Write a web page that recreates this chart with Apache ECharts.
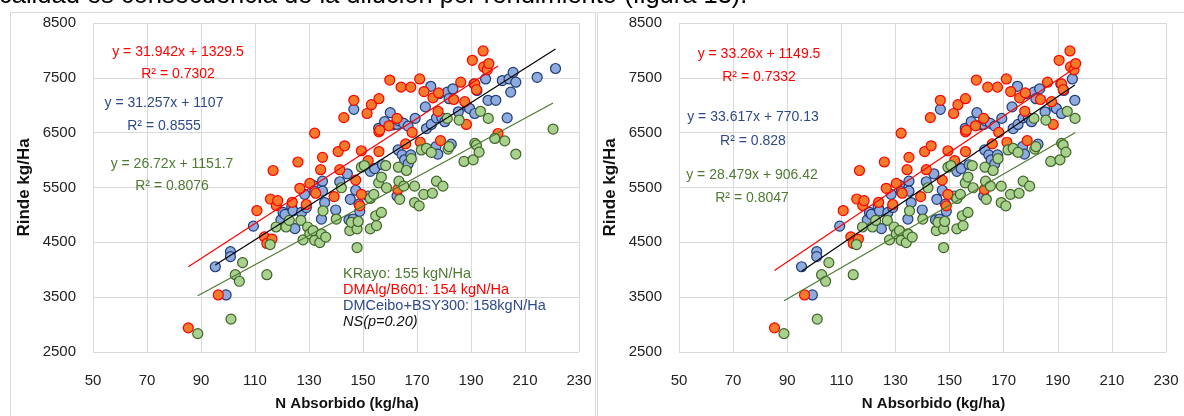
<!DOCTYPE html>
<html>
<head>
<meta charset="utf-8">
<script src="https://cdn.jsdelivr.net/npm/echarts@6/dist/echarts.min.js"></script>
<style>
html,body{margin:0;padding:0;background:#fff;}
#main{width:1184px;height:416px;}
</style>
</head>
<body>
<div id="main"></div>
<script>
// N absorbido (kg/ha) vs rinde (kg/ha), one pair of arrays per cultivar
var kRayoN = [88.8,101.1,102.7,104.2,105.4,114.4,115.6,117.8,121.5,122.7,127.0,127.8,129.5,130.3,131.5,132.1,134.0,134.6,135.2,136.2,
  140.1,142.0,145.1,145.7,147.8,147.8,148.2,149.4,150.5,152.7,152.7,154.0,154.7,155.0,155.8,156.8,156.8,158.4,158.7,163.1,
  163.3,163.6,165.1,166.1,167.9,169.1,169.1,170.8,171.6,172.5,173.5,175.3,175.7,177.2,179.6,181.2,181.5,181.9,185.6,187.4,
  190.8,191.4,192.0,193.0,193.5,196.4,198.8,202.5,206.6,220.4];
var kRayoRinde = [2835,3100,3910,3790,4130,3910,4460,4780,4780,4900,4900,4545,4780,4655,4715,4535,4495,4655,5075,4595,
  4925,5495,4715,4865,4745,4405,4880,5870,5900,5300,4745,5375,4985,4805,5585,5045,5690,5900,5495,5870,
  5615,5285,5525,5810,6025,5525,5225,5165,6185,5375,6215,6140,5395,5615,5525,6760,6200,6245,6730,5975,
  6005,6305,6275,6145,6890,6760,6395,6350,6110,6565];

var dmAlgN = [85.3,96.4,110.7,113.5,114.4,116.3,115.7,116.7,117.9,118.4,123.8,125.9,126.6,129.0,130.3,132.1,132.5,134.3,135.0,139.3,
  140.8,141.4,142.9,143.2,146.6,147.3,148.8,149.4,149.4,151.5,151.9,153.1,155.9,155.9,156.2,155.9,159.6,159.9,162.6,162.9,
  164.1,165.8,167.7,168.2,171.0,171.2,172.6,175.9,177.8,178.0,178.7,183.6,186.2,187.7,188.3,190.5,191.4,192.0,194.5,194.7,
  196.0,196.6,200.0];
var dmAlgRinde = [2940,3540,5080,4600,4480,4560,5290,5810,5170,5260,5230,5965,5485,5190,5575,6490,5395,5825,6050,5335,
  6155,5825,6775,6260,7090,5635,5165,5375,6170,6850,5990,7010,7120,6515,6545,6155,6625,7460,6760,5465,
  7330,6295,7330,6505,7480,6325,7250,7135,6890,7225,6355,7105,7420,7065,6650,7820,7390,7285,7990,7700,
  7645,7760,6485];

var dmCeiboN = [95.3,99.3,100.9,100.9,109.4,119.6,120.4,121.1,123.6,124.1,124.8,127.2,128.4,129.0,131.5,132.1,134.6,135.0,135.0,135.8,
  139.9,141.4,144.2,144.8,145.3,146.3,146.6,147.3,148.5,148.8,151.9,152.7,154.3,155.8,157.2,158.0,160.1,160.9,162.6,162.6,
  163.0,163.3,164.5,165.1,165.4,166.7,166.7,167.7,169.3,173.1,173.5,175.1,175.3,177.0,177.2,177.7,178.2,179.2,180.3,181.2,
  181.9,182.7,183.3,185.3,188.7,189.5,191.1,191.4,192.2,195.4,196.3,199.2,201.6,203.4,204.1,204.7,205.6,206.6,214.5,221.3];
var dmCeiboRinde = [4055,3540,4330,4240,4795,4910,5045,5010,5150,5075,4750,5045,5375,5135,5540,5425,4925,5615,5435,5225,
  5090,5605,5750,4910,5285,4925,6925,5450,5195,5065,5345,5795,5845,6580,5915,6700,6865,6640,6650,5345,
  6185,6715,6095,6670,6005,6620,5930,6095,6760,6970,6575,7345,6650,6245,6770,6110,7210,6770,6700,7240,
  7120,6290,7300,6880,6970,6940,7390,6850,7270,7480,7090,7090,7450,6770,7480,7240,7600,7420,7510,7670];

// right panel keeps only the plots with N up to this value
var rightMaxN = 197;

// fitted lines printed on the charts, order: KRayo, DMAlg/B601, DMCeibo+BSY300
var leftSlope = [26.72, 31.942, 31.257];
var leftIntercept = [1151.7, 1329.5, 1107];
var leftR2 = [0.8076, 0.7302, 0.8555];
var rightSlope = [28.479, 33.26, 33.617];
var rightIntercept = [906.42, 1149.5, 770.13];
var rightR2 = [0.8047, 0.7332, 0.828];

var noteLines = ['KRayo: 155 kgN/Ha', 'DMAlg/B601: 154 kgN/Ha', 'DMCeibo+BSY300: 158kgN/Ha', 'NS(p=0.20)'];
var xTicks = {min: 50, max: 230, step: 20};
var yTicks = {min: 2500, max: 8500, step: 1000};

var fillColors = ['#A9D18E', '#F47A2C', '#8FAADC'];
var borderColors = ['#3F6428', '#FF0000', '#1F3C78'];
var trendColors = ['#4E7A32', '#FF0000', '#000000'];
var textColors = ['#4E7A32', '#FF0000', '#2F4A8A'];
var FONT = '"Liberation Sans", Arial, sans-serif';

function pairs(xs, ys, maxN){
  var out = [];
  for(var i=0;i<xs.length;i++){
    if(maxN == null || xs[i] <= maxN) out.push([xs[i], ys[i]]);
  }
  return out;
}

function trendLine(pts, slope, icpt){
  var lo = pts[0][0], hi = pts[0][0];
  for(var i=1;i<pts.length;i++){
    if(pts[i][0] < lo) lo = pts[i][0];
    if(pts[i][0] > hi) hi = pts[i][0];
  }
  return [[lo, slope*lo + icpt], [hi, slope*hi + icpt]];
}

var groups = [[kRayoN, kRayoRinde], [dmAlgN, dmAlgRinde], [dmCeiboN, dmCeiboRinde]];
var drawOrder = [2, 1, 0];

function buildSeries(gi, maxN, slopes, icpts){
  var list = [];
  for(var k=0;k<drawOrder.length;k++){
    var s = drawOrder[k];
    var pts = pairs(groups[s][0], groups[s][1], maxN);
    list.push({
      type: 'scatter',
      xAxisIndex: gi, yAxisIndex: gi,
      data: pts,
      symbolSize: 10,
      z: 2,
      itemStyle: {color: fillColors[s], borderColor: borderColors[s], borderWidth: 1.2, opacity: 1},
      emphasis: {disabled: true}
    });
  }
  for(var k=0;k<drawOrder.length;k++){
    var s = drawOrder[k];
    var pts = pairs(groups[s][0], groups[s][1], maxN);
    list.push({
      type: 'line',
      xAxisIndex: gi, yAxisIndex: gi,
      data: trendLine(pts, slopes[s], icpts[s]),
      symbol: 'none',
      z: 3,
      lineStyle: {color: trendColors[s], width: 1.2},
      emphasis: {disabled: true}
    });
  }
  return list;
}

function plain(v){ return String(v); }

function xAxisFor(gi){
  return {
    type: 'value', gridIndex: gi,
    min: xTicks.min, max: xTicks.max, interval: xTicks.step,
    axisLine: {show: false}, axisTick: {show: false},
    splitLine: {show: true, lineStyle: {color: '#d9d9d9', width: 1}},
    axisLabel: {fontFamily: FONT, fontSize: 15, color: '#222', margin: 21, formatter: plain},
    name: 'N Absorbido (kg/ha)', nameLocation: 'middle', nameGap: 44,
    nameTextStyle: {fontFamily: FONT, fontSize: 15, fontWeight: 'bold', color: '#111', padding: [0, 0, 0, 22]}
  };
}

function yAxisFor(gi){
  return {
    type: 'value', gridIndex: gi,
    min: yTicks.min, max: yTicks.max, interval: yTicks.step,
    axisLine: {show: false}, axisTick: {show: false},
    splitLine: {show: true, lineStyle: {color: '#d9d9d9', width: 1}},
    axisLabel: {fontFamily: FONT, fontSize: 15, color: '#222', margin: 17, formatter: plain},
    name: 'Rinde kg/Ha', nameLocation: 'middle', nameGap: 60, nameRotate: 90,
    nameTextStyle: {fontFamily: FONT, fontSize: 17, fontWeight: 'bold', color: '#111'}
  };
}

function eqText(slope, icpt){
  return 'y = ' + slope + 'x + ' + icpt;
}

// label anchor positions (px) for each equation / R² pair
var leftEqPos = [[172, 164, 186], [178, 52, 74], [164, 103, 126]];
var rightEqPos = [[752, 175, 198], [759, 54, 77], [753, 117, 141]];

var graphics = [];
graphics.push({type: 'rect', shape: {x: 10.5, y: 12.5, width: 585, height: 420}, style: {fill: null, stroke: '#d9d9d9', lineWidth: 1}, silent: true});
graphics.push({type: 'rect', shape: {x: 597.5, y: 12.5, width: 600, height: 420}, style: {fill: null, stroke: '#d9d9d9', lineWidth: 1}, silent: true});
graphics.push({type: 'text', x: -1, y: 9, style: {text: 'calidad es consecuencia de la dilución por rendimiento (figura 13).', font: '25.5px ' + FONT, fill: '#000', textVerticalAlign: 'bottom'}, silent: true});

function addEquations(pos, slopes, icpts, r2s){
  for(var s=0;s<3;s++){
    graphics.push({type: 'text', x: pos[s][0], y: pos[s][1], z: 10,
      style: {text: eqText(slopes[s], icpts[s]), font: '14px ' + FONT, fill: textColors[s], textAlign: 'center', textVerticalAlign: 'middle'}});
    graphics.push({type: 'text', x: pos[s][0], y: pos[s][2], z: 10,
      style: {text: 'R² = ' + r2s[s], font: '14px ' + FONT, fill: textColors[s], textAlign: 'center', textVerticalAlign: 'middle'}});
  }
}
addEquations(leftEqPos, leftSlope, leftIntercept, leftR2);
addEquations(rightEqPos, rightSlope, rightIntercept, rightR2);

var noteY = [274, 290, 306, 322];
var noteColors = [textColors[0], textColors[1], textColors[2], '#111'];
for(var i=0;i<noteLines.length;i++){
  graphics.push({type: 'text', x: 343, y: noteY[i], z: 10,
    style: {text: noteLines[i], font: (i == 3 ? 'italic ' : '') + '14.5px ' + FONT, fill: noteColors[i], textVerticalAlign: 'middle'}});
}

var option = {
  animation: false,
  backgroundColor: '#ffffff',
  grid: [
    {left: 93, top: 23, width: 486, height: 333},
    {left: 679, top: 23, width: 487, height: 333}
  ],
  xAxis: [xAxisFor(0), xAxisFor(1)],
  yAxis: [yAxisFor(0), yAxisFor(1)],
  series: buildSeries(0, null, leftSlope, leftIntercept).concat(buildSeries(1, rightMaxN, rightSlope, rightIntercept)),
  graphic: graphics
};

var myChart = echarts.init(document.getElementById('main'));
myChart.setOption(option);
</script>
</body>
</html>
